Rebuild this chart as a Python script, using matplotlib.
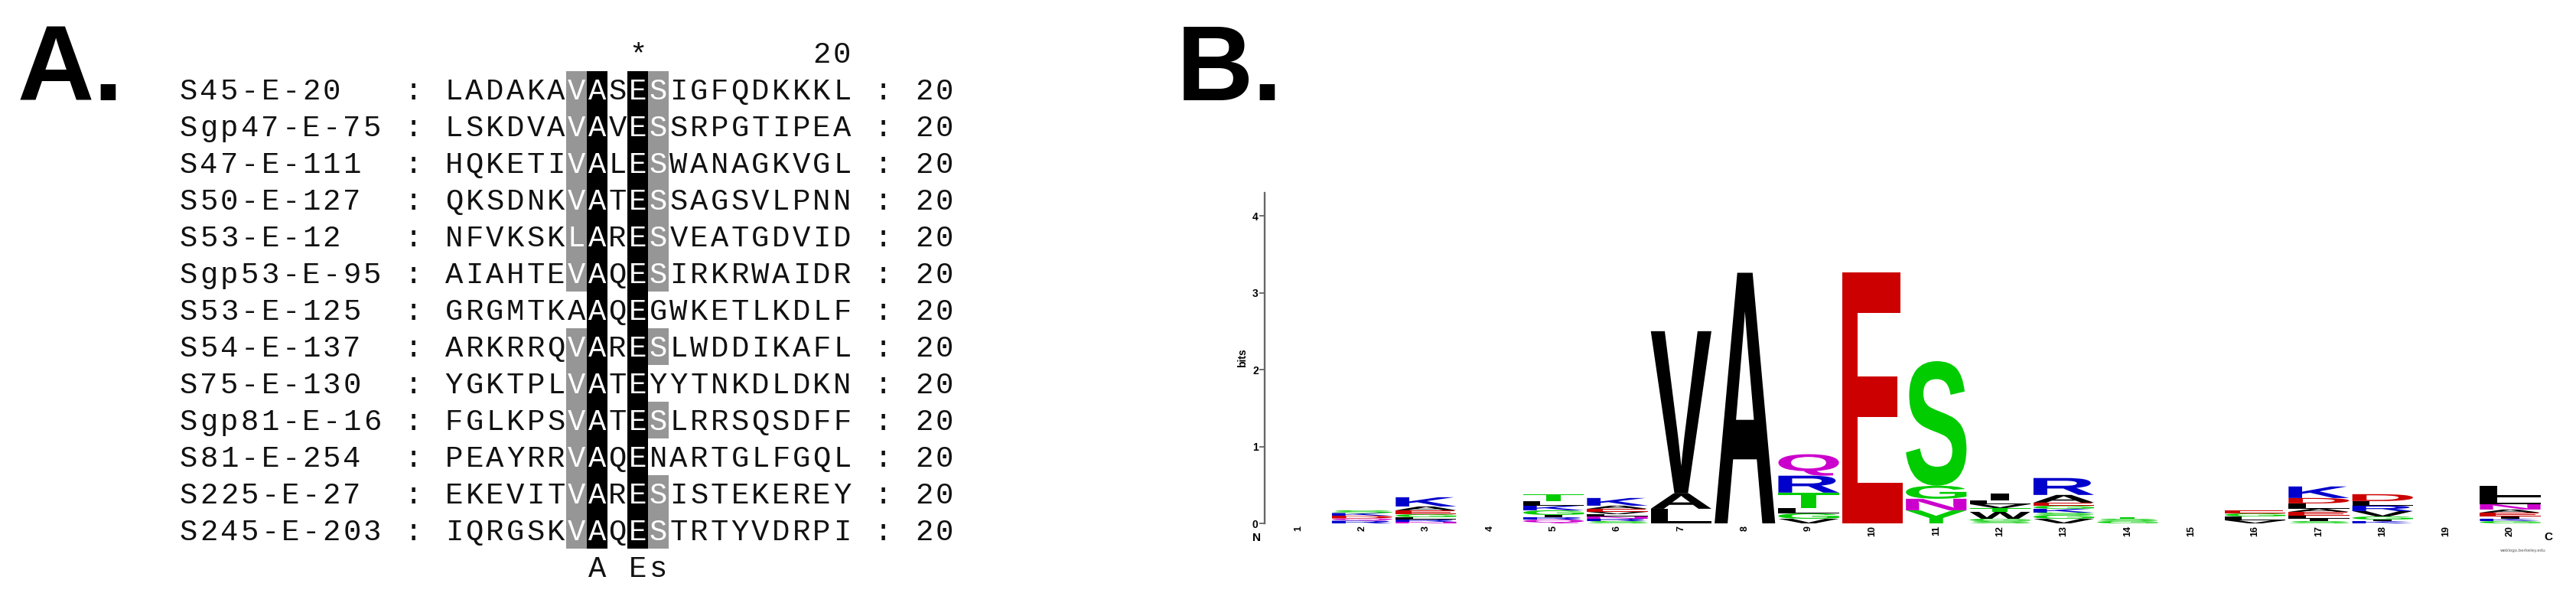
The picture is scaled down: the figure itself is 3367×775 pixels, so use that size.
"""
Two-panel figure: (A) shaded multiple sequence alignment of the
20-residue windows, (B) WebLogo-style sequence logo of the same sites.
"""

import matplotlib
matplotlib.use("Agg")  # headless rendering
import matplotlib.pyplot as plt
import matplotlib.transforms as mtransforms
from matplotlib.font_manager import FontProperties
from matplotlib.patches import PathPatch, Rectangle
from matplotlib.textpath import TextPath

# ---------------- panel A data ----------------
seq_names = [
    "S45-E-20", "Sgp47-E-75", "S47-E-111", "S50-E-127", "S53-E-12",
    "Sgp53-E-95", "S53-E-125", "S54-E-137", "S75-E-130", "Sgp81-E-16",
    "S81-E-254", "S225-E-27", "S245-E-203",
]
sequences = [
    "LADAKAVASESIGFQDKKKL",
    "LSKDVAVAVESSRPGTIPEA",
    "HQKETIVALESWANAGKVGL",
    "QKSDNKVATESSAGSVLPNN",
    "NFVKSKLARESVEATGDVID",
    "AIAHTEVAQESIRKRWAIDR",
    "GRGMTKAAQEGWKETLKDLF",
    "ARKRRQVARESLWDDIKAFL",
    "YGKTPLVATEYYTNKDLDKN",
    "FGLKPSVATESLRRSQSDFF",
    "PEAYRRVAQENARTGLFGQL",
    "EKEVITVARESISTEKEREY",
    "IQRGSKVAQESTRTYVDRPI",
]
# conservation shading per residue: g = grey, k = black, . = none
shading = [
    "......gk.kg.........",
    "......gk.kg.........",
    "......gk.kg.........",
    "......gk.kg.........",
    "......gk.kg.........",
    "......gk.kg.........",
    ".......k.k..........",
    "......gk.kg.........",
    "......gk.k..........",
    "......gk.kg.........",
    "......gk.k..........",
    "......gk.kg.........",
    "......gk.kg.........",
]
seq_length = 20
header_line = " " * 9 + "*" + " " * 8 + "20"
consensus_line = " " * 7 + "A Es" + " " * 9

# ---------------- panel B data ----------------
logo_positions = list(range(1, 21))
# letters of each stack, bottom to top, with their heights in bits
stack_letters = [
    "", "RQDKS", "NRLGEAK", "", "QRIGKLT", "SRNLVEAK", "LAV", "A",
    "VGLTRQ", "E", "YNGS", "SGWTVLI", "VGSKGEAR", "GST", "",
    "VLGE", "SILEALDK", "KIGVRLD", "", "GKIEANLL",
]
stack_bits = [
    [], [0.035, 0.03, 0.035, 0.035, 0.035],
    [0.02, 0.03, 0.03, 0.04, 0.05, 0.05, 0.12], [],
    [0.05, 0.03, 0.03, 0.06, 0.06, 0.06, 0.09],
    [0.03, 0.03, 0.03, 0.03, 0.03, 0.04, 0.04, 0.10],
    [0.19, 0.20, 2.11], [3.26],
    [0.06, 0.07, 0.07, 0.20, 0.22, 0.28], [3.26],
    [0.17, 0.15, 0.17, 1.62],
    [0.03, 0.03, 0.09, 0.05, 0.05, 0.05, 0.09],
    [0.06, 0.05, 0.03, 0.05, 0.04, 0.04, 0.10, 0.22],
    [0.03, 0.03, 0.02], [],
    [0.04, 0.05, 0.04, 0.04],
    [0.03, 0.03, 0.04, 0.05, 0.04, 0.07, 0.07, 0.15],
    [0.03, 0.02, 0.04, 0.07, 0.07, 0.06, 0.09], [],
    [0.03, 0.03, 0.03, 0.05, 0.04, 0.07, 0.09, 0.15],
]
y_ticks = [0, 1, 2, 3, 4]

residue_colors = {}
for aa in "AVLIPWFM":
    residue_colors[aa] = "#000000"
for aa in "GSTYC":
    residue_colors[aa] = "#00CC00"
for aa in "NQ":
    residue_colors[aa] = "#CC00CC"
for aa in "KRH":
    residue_colors[aa] = "#0000CC"
for aa in "DE":
    residue_colors[aa] = "#CC0000"

W, H = 3367, 775
fig = plt.figure(figsize=(W / 100, H / 100), dpi=100)
fig.patch.set_facecolor("white")

MONO = "Liberation Mono"
CELL = 26.7  # px per alignment character

# ---------------- panel A ----------------
ax_a = fig.add_axes([233 / W, 10 / H, 38 * CELL / W, 720 / H])
ax_a.set_xlim(-0.5, 37.5)
ax_a.set_ylim(13.5, -1.5)
ax_a.axis("off")

seq_offset = 13  # name (10) + " : "
shade_fill = {"g": "#969696", "k": "#000000"}
for r, (name, seq, shade) in enumerate(zip(seq_names, sequences, shading)):
    line = f"{name:<10} : {seq} : {seq_length}"
    for k, ch in enumerate(line):
        color = "#111111"
        j = k - seq_offset
        if 0 <= j < len(seq) and shade[j] != ".":
            ax_a.add_patch(Rectangle((k - 0.5, r - 0.5), 1, 1,
                                     facecolor=shade_fill[shade[j]],
                                     edgecolor="none"))
            color = "white"
        if ch != " ":
            ax_a.text(k, r + 0.28, ch, ha="center", va="baseline",
                      fontsize=28, family=MONO, color=color)

for row, text in ((-1, header_line), (len(sequences), consensus_line)):
    for j, ch in enumerate(text):
        if ch != " ":
            ax_a.text(seq_offset + j, row + 0.28, ch, ha="center",
                      va="baseline", fontsize=28, family=MONO,
                      color="#111111")

# panel letters
for x_px, label in ((23, "A."), (1538, "B.")):
    fig.text(x_px / W, 1 - 131 / H, label, fontsize=100,
             fontweight="bold", family="Liberation Sans",
             ha="left", va="baseline")

# ---------------- panel B ----------------
ax_b = fig.add_axes([1653 / W, (H - 684) / H, (3331 - 1653) / W, 432 / H])
ax_b.set_xlim(0.47, 20.6)
ax_b.set_ylim(0, 4.3)

LOGO_FONT = FontProperties(family="Liberation Sans", weight="bold")


def draw_letter(ax, ch, x, y0, h, width, color):
    tp = TextPath((0, 0), ch, size=1, prop=LOGO_FONT)
    bb = tp.get_extents()
    w = width * (0.3 if ch == "I" else 1.0)
    tr = (mtransforms.Affine2D()
          .translate(-bb.x0, -bb.y0)
          .scale(w / bb.width, h / bb.height)
          .translate(x - w / 2, y0))
    ax.add_patch(PathPatch(tr.transform_path(tp), facecolor=color,
                           edgecolor="none", lw=0))


for pos, letters, bits in zip(logo_positions, stack_letters, stack_bits):
    y = 0.0
    for ch, h in zip(letters, bits):
        draw_letter(ax_b, ch, pos, y, h, 0.95, residue_colors[ch])
        y += h

for side in ("top", "right", "bottom"):
    ax_b.spines[side].set_visible(False)
ax_b.spines["left"].set_color("#666666")
ax_b.spines["left"].set_linewidth(1.7)

ax_b.set_yticks(y_ticks)
ax_b.set_yticklabels([str(t) for t in y_ticks], fontsize=10,
                     fontweight="bold", family="Liberation Sans")
ax_b.tick_params(axis="y", length=5, width=1.3, color="#666666", pad=1)
ax_b.set_xticks(logo_positions)
ax_b.set_xticklabels([str(p) for p in logo_positions], rotation=90,
                     fontsize=9, fontweight="bold",
                     family="Liberation Sans")
ax_b.tick_params(axis="x", length=0, pad=2)

ax_b.set_ylabel("bits", fontsize=10, fontweight="bold",
                family="Liberation Sans")
ax_b.yaxis.set_label_coords(-0.013, 0.5)

ax_b.text(0.35, -0.19, "N", ha="center", va="center", fontsize=11,
          fontweight="bold", family="Liberation Sans", clip_on=False)
ax_b.text(20.6, -0.18, "C", ha="center", va="center", fontsize=11,
          fontweight="bold", family="Liberation Sans", clip_on=False)
ax_b.text(20.2, -0.35, "weblogo.berkeley.edu", ha="center", va="center",
          fontsize=4, color="#555555", clip_on=False)

fig.savefig("out.png", dpi=100, facecolor="white")
plt.close(fig)
